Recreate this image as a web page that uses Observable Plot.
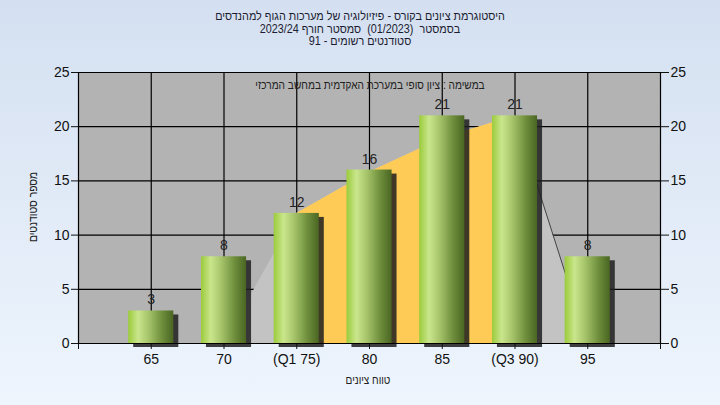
<!DOCTYPE html>
<html><head><meta charset="utf-8">
<script src="https://cdn.jsdelivr.net/npm/d3@7"></script>
<script src="https://cdn.jsdelivr.net/npm/@observablehq/plot@0.6"></script>
<style>
html,body{margin:0;padding:0;}
body{width:720px;height:405px;overflow:hidden;background:linear-gradient(#d4e0f1,#eef5fd);font-family:"Liberation Sans",Arial,sans-serif;}
#wrap{position:relative;width:720px;height:405px;}
#title{position:absolute;top:10px;left:0;width:720px;text-align:center;font-size:12px;line-height:12.5px;color:#1c1c30;direction:rtl;white-space:pre;transform:scaleX(0.9);transform-origin:360px 0;}
.lab{position:absolute;font-size:12.5px;line-height:14px;color:#222;white-space:nowrap;direction:rtl;}
#ylab{left:33px;top:207px;transform:translate(-50%,-50%) rotate(-90deg) scaleX(0.82);}
#xlab{left:368px;top:380px;transform:translate(-50%,-50%) scaleX(0.8);}
#note{left:370px;top:85px;transform:translate(-50%,-50%) scaleX(0.81);}
#chart{position:absolute;top:0;left:0;}
</style></head><body>
<div id="wrap"><div id="chart"></div><div id="title"></div><div id="ylab" class="lab"></div><div id="xlab" class="lab"></div><div id="note" class="lab"></div></div>
<script>
const categories = [65, 70, 75, 80, 85, 90, 95];
const tickLabels = ["65", "70", "(Q1 75)", "80", "85", "(Q3 90)", "95"];
const counts = [3, 8, 12, 16, 21, 21, 8];
const areaValues = [0, 0, 12, 15.8, 18.9, 21, 0];
const q1 = 75, q3 = 90;
const xTicks = [60, 65, 70, 75, 80, 85, 90, 95, 100];
const yTicks = [0, 5, 10, 15, 20, 25];
const titleLines = [
  "היסטוגרמת ציונים בקורס - פיזיולוגיה של מערכות הגוף למהנדסים",
  "בסמסטר  (01/2023)  סמסטר חורף 2023/24",
  "סטודנטים רשומים - 91"
];
const yLabel = "מספר סטודנטים";
const xLabel = "טווח ציונים";
const note = "במשימה : ציון סופי במערכת האקדמית במחשב המרכזי";

document.getElementById("title").innerHTML = titleLines.map(t => `<div>${t}</div>`).join("");
document.getElementById("ylab").textContent = yLabel;
document.getElementById("xlab").textContent = xLabel;
document.getElementById("note").textContent = note;

const bars = categories.map((c, i) => ({x: c, label: tickLabels[i], n: counts[i]}));
const area = categories.map((c, i) => ({x: c, v: areaValues[i]}));
const orange = area.filter(d => d.x >= q1 && d.x <= q3);
const outline = area.map(d => ({...d, z: d.x < q1 ? "low" : d.x >= q3 ? "high" : null})).filter(d => d.z);
const labelOf = new Map(categories.map((c, i) => [c, tickLabels[i]]));
const half = 1.55;

const plot = Plot.plot({
  width: 720, height: 405,
  marginTop: 72, marginBottom: 62, marginLeft: 78, marginRight: 60,
  style: {fontFamily: "Liberation Sans, Arial, sans-serif", fontSize: "14px", background: "transparent", overflow: "visible", color: "#111"},
  x: {domain: [60, 100]},
  y: {domain: [0, 25]},
  marks: [
    Plot.frame({fill: "#b3b3b3", stroke: null}),
    Plot.ruleY(yTicks, {stroke: "#000", strokeWidth: 1.2}),
    Plot.ruleX(categories, {stroke: "#000", strokeWidth: 1.2}),
    Plot.areaY(area, {x: "x", y: "v", fill: "#c3c3c3"}),
    Plot.areaY(orange, {x: "x", y: "v", fill: "#ffcb57"}),
    Plot.lineY(outline, {x: "x", y: "v", z: "z", stroke: "#444", strokeWidth: 1}),
    Plot.ruleX([60, 100], {stroke: "#000", strokeWidth: 1.2}),
    Plot.rectY(bars, {x1: d => d.x - half, x2: d => d.x + half, y: "n", fill: "#1e1e1e", fillOpacity: 0.85, dx: 5, dy: 4, ariaLabel: "shadow"}),
    Plot.rectY(bars, {x1: d => d.x - half, x2: d => d.x + half, y: "n", fill: "url(#barGrad)", ariaLabel: "bars"}),
    Plot.text(bars, {x: "x", y: "n", text: d => String(d.n), dy: -11, fontSize: 14, fill: "#222"}),
    Plot.axisY(yTicks, {anchor: "left", tickSize: 7, tickPadding: 2, label: null, fontSize: 14}),
    Plot.axisY(yTicks, {anchor: "right", tickSize: 8, tickPadding: 2, label: null, fontSize: 14}),
    Plot.axisX(xTicks, {tickSize: 6, tickPadding: 5, label: null, fontSize: 14, tickFormat: d => labelOf.get(d) || ""}),
    Plot.ruleY([0], {stroke: "#000", strokeWidth: 1.2})
  ]
});

const svg = d3.select(plot);
const defs = svg.insert("defs", ":first-child");
const g = defs.append("linearGradient").attr("id", "barGrad").attr("x1", "0").attr("x2", "1").attr("y1", "0").attr("y2", "0");
[["0%", "#9bcb3b"], ["22%", "#cae68d"], ["45%", "#a6c46a"], ["75%", "#6e8e3c"], ["100%", "#4a6622"]].forEach(([o, c]) => g.append("stop").attr("offset", o).attr("stop-color", c));
svg.selectAll('g[aria-label="shadow"]').style("filter", "blur(2.5px)");
document.getElementById("chart").appendChild(plot);
</script>
</body></html>
